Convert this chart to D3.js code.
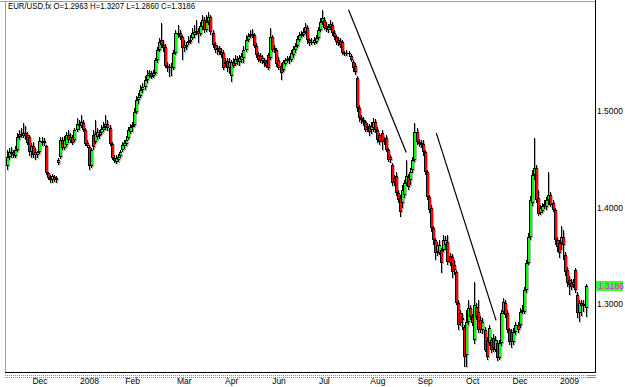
<!DOCTYPE html>
<html>
<head>
<meta charset="utf-8">
<title>EUR/USD.fx</title>
<script src="https://cdn.jsdelivr.net/npm/d3@7"></script>
<style>
  body { margin: 0; background: #fff; }
  svg { display: block; font-family: "Liberation Sans", Arial, sans-serif; }
</style>
</head>
<body>
<svg id="chart" width="625" height="387"></svg>
<script>
// daily EUR/USD candles, Nov 2007 - Jan 2009
var opens = [
1.443,1.452,1.455,1.458,1.453,1.460,1.473,1.476,1.474,1.477,
1.475,1.473,1.458,1.464,1.454,1.454,1.458,1.469,1.467,1.464,
1.436,1.431,1.428,1.432,1.428,1.446,1.452,1.470,1.462,1.465,
1.475,1.470,1.473,1.470,1.480,1.485,1.484,1.488,1.480,1.467,
1.463,1.443,1.475,1.468,1.473,1.476,1.477,1.480,1.483,1.487,
1.482,1.466,1.451,1.447,1.449,1.453,1.460,1.464,1.466,1.472,
1.478,1.483,1.485,1.499,1.511,1.516,1.522,1.525,1.532,1.538,
1.539,1.536,1.539,1.553,1.563,1.574,1.568,1.566,1.547,1.545,
1.546,1.545,1.560,1.581,1.581,1.577,1.565,1.566,1.570,1.571,
1.576,1.579,1.582,1.583,1.580,1.587,1.594,1.584,1.592,1.597,
1.581,1.568,1.563,1.565,1.561,1.560,1.549,1.552,1.545,1.536,
1.551,1.549,1.554,1.551,1.553,1.555,1.563,1.574,1.578,1.580,
1.579,1.567,1.558,1.557,1.552,1.553,1.551,1.558,1.555,1.577,
1.563,1.563,1.553,1.547,1.542,1.549,1.552,1.553,1.553,1.558,
1.563,1.567,1.574,1.578,1.579,1.582,1.586,1.574,1.570,1.570,
1.571,1.576,1.584,1.592,1.594,1.588,1.584,1.587,1.589,1.581,
1.577,1.574,1.573,1.571,1.560,1.560,1.559,1.557,1.551,1.547,
1.534,1.503,1.493,1.491,1.489,1.482,1.484,1.480,1.482,1.489,
1.480,1.475,1.477,1.468,1.472,1.460,1.452,1.444,1.431,1.433,
1.415,1.410,1.405,1.413,1.425,1.432,1.428,1.439,1.449,1.478,
1.468,1.467,1.466,1.457,1.437,1.411,1.399,1.379,1.366,1.354,
1.353,1.356,1.356,1.361,1.364,1.350,1.349,1.340,1.333,1.301,
1.291,1.283,1.276,1.247,1.281,1.296,1.286,1.263,1.297,1.292,
1.283,1.273,1.273,1.263,1.260,1.263,1.265,1.252,1.260,1.244,
1.260,1.292,1.301,1.291,1.273,1.271,1.261,1.271,1.278,1.278,
1.292,1.292,1.315,1.342,1.369,1.405,1.434,1.441,1.410,1.394,
1.396,1.402,1.400,1.408,1.413,1.405,1.397,1.366,1.363,1.363,
1.369,1.351,1.335,1.325,1.322,1.320,1.335,1.309,1.291,1.301,
1.298,1.2963];
var highs = [
1.460,1.462,1.463,1.460,1.464,1.477,1.480,1.482,1.488,1.484,
1.478,1.475,1.467,1.468,1.462,1.459,1.473,1.473,1.472,1.465,
1.437,1.434,1.435,1.434,1.433,1.451,1.473,1.473,1.474,1.478,
1.480,1.477,1.475,1.482,1.493,1.491,1.496,1.491,1.482,1.470,
1.465,1.462,1.480,1.491,1.482,1.480,1.485,1.489,1.496,1.491,
1.485,1.468,1.454,1.454,1.455,1.460,1.468,1.470,1.474,1.483,
1.487,1.489,1.503,1.516,1.519,1.527,1.529,1.536,1.542,1.542,
1.541,1.542,1.555,1.566,1.576,1.591,1.574,1.569,1.551,1.549,
1.550,1.563,1.584,1.589,1.584,1.579,1.574,1.571,1.578,1.579,
1.586,1.589,1.594,1.586,1.592,1.599,1.597,1.600,1.603,1.599,
1.584,1.571,1.568,1.567,1.565,1.563,1.555,1.555,1.555,1.553,
1.555,1.558,1.557,1.558,1.560,1.567,1.579,1.581,1.584,1.585,
1.581,1.570,1.561,1.560,1.558,1.555,1.553,1.560,1.586,1.579,
1.568,1.565,1.556,1.550,1.553,1.555,1.557,1.557,1.563,1.567,
1.570,1.578,1.582,1.583,1.586,1.591,1.589,1.576,1.576,1.577,
1.579,1.587,1.596,1.605,1.597,1.592,1.590,1.594,1.592,1.584,
1.579,1.577,1.576,1.574,1.562,1.563,1.562,1.559,1.553,1.550,
1.536,1.506,1.496,1.494,1.491,1.488,1.487,1.489,1.493,1.492,
1.483,1.477,1.480,1.473,1.475,1.462,1.454,1.446,1.434,1.437,
1.418,1.413,1.423,1.428,1.449,1.435,1.441,1.452,1.488,1.482,
1.471,1.470,1.470,1.460,1.439,1.413,1.403,1.381,1.368,1.364,
1.366,1.358,1.371,1.370,1.371,1.353,1.352,1.346,1.335,1.304,
1.294,1.291,1.278,1.294,1.304,1.299,1.290,1.323,1.301,1.304,
1.288,1.285,1.276,1.266,1.278,1.266,1.269,1.267,1.263,1.263,
1.294,1.306,1.304,1.294,1.275,1.274,1.275,1.281,1.281,1.296,
1.299,1.318,1.346,1.374,1.412,1.439,1.472,1.444,1.418,1.403,
1.405,1.408,1.411,1.437,1.416,1.408,1.399,1.369,1.366,1.381,
1.377,1.354,1.338,1.329,1.326,1.326,1.337,1.312,1.304,1.304,
1.304,1.3207];
var lows = [
1.439,1.449,1.451,1.451,1.451,1.458,1.470,1.472,1.472,1.470,
1.465,1.453,1.451,1.451,1.449,1.451,1.455,1.464,1.464,1.434,
1.428,1.425,1.425,1.426,1.425,1.444,1.450,1.460,1.460,1.463,
1.467,1.467,1.465,1.468,1.478,1.480,1.482,1.478,1.464,1.462,
1.439,1.441,1.460,1.466,1.470,1.471,1.475,1.478,1.480,1.479,
1.464,1.449,1.446,1.445,1.447,1.451,1.458,1.461,1.464,1.470,
1.476,1.478,1.483,1.497,1.507,1.513,1.519,1.522,1.529,1.534,
1.533,1.534,1.537,1.550,1.561,1.565,1.561,1.545,1.540,1.535,
1.536,1.542,1.558,1.576,1.574,1.553,1.561,1.563,1.568,1.569,
1.574,1.576,1.579,1.570,1.578,1.584,1.581,1.582,1.589,1.579,
1.565,1.560,1.558,1.558,1.555,1.542,1.546,1.540,1.538,1.530,
1.545,1.547,1.548,1.547,1.550,1.550,1.561,1.571,1.576,1.576,
1.565,1.555,1.551,1.550,1.549,1.546,1.545,1.542,1.553,1.561,
1.560,1.546,1.542,1.532,1.540,1.547,1.550,1.549,1.551,1.555,
1.560,1.565,1.571,1.576,1.577,1.580,1.569,1.567,1.568,1.568,
1.569,1.574,1.582,1.589,1.584,1.582,1.581,1.584,1.578,1.574,
1.568,1.567,1.565,1.558,1.557,1.557,1.556,1.551,1.540,1.537,
1.499,1.489,1.487,1.484,1.478,1.478,1.474,1.476,1.478,1.477,
1.467,1.465,1.460,1.465,1.457,1.447,1.446,1.422,1.422,1.412,
1.405,1.390,1.399,1.410,1.422,1.418,1.423,1.436,1.447,1.465,
1.463,1.462,1.453,1.434,1.408,1.394,1.375,1.361,1.346,1.350,
1.351,1.332,1.354,1.356,1.340,1.339,1.327,1.330,1.299,1.273,
1.277,1.273,1.235,1.235,1.278,1.283,1.277,1.259,1.283,1.270,
1.270,1.269,1.250,1.242,1.256,1.249,1.250,1.250,1.241,1.242,
1.256,1.290,1.285,1.270,1.258,1.254,1.258,1.268,1.270,1.275,
1.290,1.290,1.311,1.340,1.366,1.402,1.428,1.405,1.391,1.392,
1.394,1.398,1.397,1.403,1.400,1.395,1.361,1.354,1.348,1.356,
1.346,1.329,1.318,1.309,1.315,1.317,1.311,1.285,1.281,1.288,
1.292,1.2860];
var closes = [
1.452,1.457,1.458,1.454,1.460,1.473,1.476,1.474,1.477,1.474,
1.467,1.457,1.464,1.454,1.458,1.457,1.469,1.467,1.469,1.436,
1.431,1.428,1.433,1.428,1.431,1.449,1.470,1.462,1.470,1.475,
1.470,1.473,1.467,1.480,1.487,1.484,1.489,1.480,1.466,1.464,
1.443,1.460,1.463,1.476,1.478,1.474,1.481,1.483,1.487,1.482,
1.466,1.451,1.448,1.451,1.452,1.458,1.465,1.467,1.470,1.480,
1.483,1.485,1.499,1.511,1.515,1.522,1.525,1.532,1.537,1.539,
1.535,1.539,1.553,1.563,1.571,1.568,1.565,1.547,1.545,1.546,
1.545,1.560,1.581,1.579,1.577,1.565,1.568,1.568,1.573,1.574,
1.581,1.582,1.583,1.580,1.588,1.594,1.584,1.592,1.597,1.582,
1.568,1.563,1.565,1.561,1.558,1.545,1.551,1.545,1.551,1.551,
1.547,1.554,1.551,1.555,1.557,1.563,1.574,1.578,1.580,1.579,
1.567,1.558,1.553,1.552,1.555,1.550,1.547,1.545,1.577,1.563,
1.565,1.549,1.545,1.539,1.551,1.553,1.554,1.555,1.560,1.564,
1.567,1.575,1.579,1.580,1.582,1.587,1.574,1.570,1.572,1.574,
1.576,1.584,1.592,1.596,1.586,1.585,1.587,1.590,1.581,1.577,
1.571,1.570,1.568,1.560,1.560,1.559,1.560,1.553,1.545,1.540,
1.503,1.493,1.491,1.489,1.480,1.484,1.478,1.484,1.489,1.480,
1.470,1.468,1.468,1.470,1.460,1.449,1.449,1.425,1.426,1.415,
1.408,1.395,1.418,1.425,1.433,1.421,1.437,1.449,1.478,1.468,
1.466,1.465,1.457,1.437,1.411,1.397,1.379,1.366,1.353,1.361,
1.361,1.342,1.366,1.366,1.343,1.342,1.333,1.335,1.301,1.278,
1.280,1.285,1.245,1.281,1.296,1.286,1.280,1.299,1.286,1.273,
1.273,1.281,1.252,1.245,1.275,1.252,1.254,1.263,1.244,1.260,
1.291,1.302,1.289,1.273,1.261,1.261,1.271,1.278,1.273,1.292,
1.294,1.315,1.342,1.369,1.408,1.434,1.441,1.408,1.393,1.399,
1.402,1.404,1.408,1.413,1.403,1.397,1.366,1.359,1.353,1.369,
1.361,1.333,1.322,1.320,1.318,1.323,1.315,1.291,1.301,1.298,
1.300,1.3186];

// axis labels sit at these candle indices
var tickIdx    = [16, 40, 61, 86, 109, 132, 154, 180, 203, 226, 249, 273];
var tickLabels = ["Dec","2008","Feb","Mar","Apr","Jun","Jul","Aug","Sep","Oct","Dec","2009"];
var priceTicks = [1.3, 1.4, 1.5];

// hand drawn trend lines: [index0, price0, index1, price1]
var trendLines = [
  [166.0, 1.605, 194.0, 1.457],
  [208.6, 1.477, 237.6, 1.283]
];

var symbol = "EUR/USD.fx";

var n = closes.length;
var last = n - 1;

var svg = d3.select("#chart");

var x = d3.scaleLinear().domain([0, n - 1]).range([6.5, 585.5]);
var y = d3.scaleLinear().domain([1.2295, 1.614]).range([372, 1]);

var candles = d3.range(n).map(function(i) {
  var d = {i: i, o: opens[i], h: highs[i], l: lows[i], c: closes[i]};
  d.px = Math.round(x(i));
  d.top = Math.round(y(Math.max(d.o, d.c)));
  d.bh = Math.max(1, Math.round(y(Math.min(d.o, d.c))) - d.top);
  d.wt = Math.round(y(d.h));
  d.wh = Math.max(1, Math.round(y(d.l)) - d.wt);
  return d;
});

// frame
svg.append("line").attr("x1", 0).attr("x2", 595).attr("y1", 1.5).attr("y2", 1.5)
  .attr("stroke", "#a0a0a0");
svg.append("line").attr("x1", 5.5).attr("x2", 5.5).attr("y1", 1).attr("y2", 372)
  .attr("stroke", "#a0a0a0");

// grey shadow under the candles
var shadow = svg.append("g").attr("shape-rendering", "crispEdges");
shadow.selectAll(".sw").data(candles).enter().append("rect")
  .attr("x", function(d) { return d.px + 1; })
  .attr("y", function(d) { return d.wt + 1; })
  .attr("width", 1).attr("height", function(d) { return d.wh; })
  .attr("fill", "#b4b4b4");
shadow.selectAll(".sb").data(candles).enter().append("rect")
  .attr("x", function(d) { return d.px + 1; })
  .attr("y", function(d) { return d.top + 1; })
  .attr("width", 2).attr("height", function(d) { return d.bh; })
  .attr("fill", "#b4b4b4");

var g = svg.append("g").attr("shape-rendering", "crispEdges");
var cg = g.selectAll("g").data(candles).enter().append("g");
cg.append("rect")   // wick
  .attr("x", function(d) { return d.px; })
  .attr("y", function(d) { return d.wt; })
  .attr("width", 1).attr("height", function(d) { return d.wh; })
  .attr("fill", "#000");
cg.append("rect")   // body
  .attr("x", function(d) { return d.px - 1; })
  .attr("y", function(d) { return d.top; })
  .attr("width", 3).attr("height", function(d) { return d.bh; })
  .attr("fill", function(d) { return d.c > d.o ? "#00ff00" : (d.c < d.o ? "#ff0000" : "#000"); });
cg.append("rect")   // left edge
  .attr("x", function(d) { return d.px - 1; })
  .attr("y", function(d) { return d.top; })
  .attr("width", 1).attr("height", function(d) { return d.bh; })
  .attr("fill", "#000");
cg.append("rect")   // top edge
  .attr("x", function(d) { return d.px - 1; })
  .attr("y", function(d) { return d.top; })
  .attr("width", 3).attr("height", 1)
  .attr("fill", "#000");
cg.append("rect")   // bottom edge
  .attr("x", function(d) { return d.px - 1; })
  .attr("y", function(d) { return d.top + d.bh - 1; })
  .attr("width", 3).attr("height", 1)
  .attr("fill", "#000");

// trend lines
svg.selectAll(".trend").data(trendLines).enter().append("line")
  .attr("class", "trend")
  .attr("x1", function(d) { return x(d[0]); })
  .attr("y1", function(d) { return y(d[1]); })
  .attr("x2", function(d) { return x(d[2]); })
  .attr("y2", function(d) { return y(d[3]); })
  .attr("stroke", "#000")
  .attr("stroke-width", 1.2);

// bottom and right border
svg.append("line").attr("x1", 5).attr("x2", 596).attr("y1", 372.5).attr("y2", 372.5)
  .attr("stroke", "#000");
svg.append("line").attr("x1", 595.5).attr("x2", 595.5).attr("y1", 0).attr("y2", 373)
  .attr("stroke", "#000");

// dotted time strip
[375.5, 377.5].forEach(function(yy) {
  svg.append("line").attr("x1", 5).attr("x2", 586).attr("y1", yy).attr("y2", yy)
    .attr("stroke", "#8c8c8c").attr("stroke-dasharray", "1,1");
  svg.append("line").attr("x1", 587).attr("x2", 596).attr("y1", yy).attr("y2", yy)
    .attr("stroke", "#8c8c8c");
});

// time axis
var xAxis = d3.axisBottom(x)
  .tickValues(tickIdx)
  .tickFormat(function(d, i) { return tickLabels[i]; })
  .tickSize(0)
  .tickPadding(0);
var gx = svg.append("g").attr("transform", "translate(0,377)").call(xAxis);
gx.select(".domain").remove();
gx.selectAll("text").attr("font-size", 8.5).attr("font-family", "Liberation Sans, Arial, sans-serif")
  .attr("fill", "#000").attr("dy", "0.85em");

// price axis
var yAxis = d3.axisRight(y)
  .tickValues(priceTicks)
  .tickFormat(d3.format(".4f"))
  .tickSize(0)
  .tickPadding(0);
var gy = svg.append("g").attr("transform", "translate(597,0)").call(yAxis);
gy.select(".domain").remove();
gy.selectAll("text").attr("font-size", 8.5).attr("font-family", "Liberation Sans, Arial, sans-serif")
  .attr("fill", "#000");

// last price marker
var lastY = y(closes[last]);
svg.append("rect").attr("x", 596).attr("y", Math.round(lastY) - 5).attr("width", 27).attr("height", 10)
  .attr("fill", "#33ff33");
svg.append("text").attr("x", 598).attr("y", lastY).attr("dy", "0.35em")
  .attr("font-size", 8.5).attr("fill", "#ff00ff")
  .text(d3.format(".4f")(closes[last]));

// header
var f = d3.format(".4f");
svg.append("text").attr("x", 8).attr("y", 9)
  .attr("font-size", 9)
  .attr("textLength", 187).attr("lengthAdjust", "spacingAndGlyphs")
  .text(symbol + " O=" + f(opens[last]) + " H=" + f(highs[last]) + " L=" + f(lows[last]) + " C=" + f(closes[last]));
</script>
</body>
</html>
